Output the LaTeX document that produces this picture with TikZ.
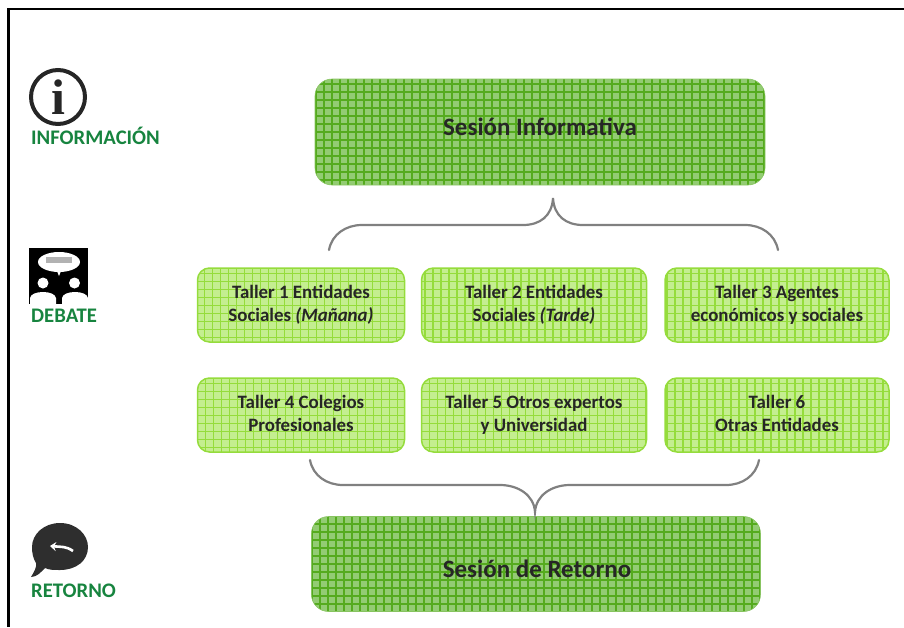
\documentclass[tikz,border=0pt]{standalone}
\usepackage{fontspec}
\setmainfont{Carlito}
\newfontfamily\iconfont{Liberation Serif}
\usepackage{xcolor}
\usepackage{tikz}
\usetikzlibrary{shapes,positioning,arrows.meta,calc}

\definecolor{bigfill}{HTML}{93CC73}
\definecolor{bigline}{HTML}{55AB1E}
\definecolor{smallfill}{HTML}{C4EE90}
\definecolor{smallline}{HTML}{95DC3C}
\definecolor{labelgreen}{HTML}{17843F}
\definecolor{bracegray}{HTML}{808080}

\newcommand{\tallerup}{\rule{0pt}{17pt}}

\tikzset{
	bigbox/.style={draw=bigline!70,line width=0.6pt,fill=bigfill,rounded corners=17pt,
		path picture={
			\draw[bigline,line width=1.8pt,step=8pt] (path picture bounding box.south west) grid (path picture bounding box.north east);
		}},
	bigtext/.style={inner sep=0pt,font=\fontsize{25}{30}\selectfont\bfseries,text=black!85},
	smallbox/.style={draw=smallline,line width=1.5pt,fill=smallfill,rounded corners=12pt,
		font=\fontsize{18.9}{23}\selectfont\bfseries,text=black!85,align=center,
		execute at end node=\strut,
		path picture={
			\draw[smallline,line width=1.5pt,step=8pt] (path picture bounding box.south west) grid (path picture bounding box.north east);
		}},
	sidelabel/.style={anchor=west,inner sep=0pt,text=labelgreen,font=\fontsize{20.7}{24}\selectfont\bfseries},
	bracket/.style={draw=bracegray,line width=2.2pt,line cap=round}
}

\begin{document}
\begin{tikzpicture}[x=1pt,y=-1pt]
	\useasboundingbox (0,0) rectangle (904,627);
	% frame, top and left only
	\draw[line width=2.5pt] (904,9) -- (8.5,9) -- (8.5,627);

	\node[bigbox,minimum width=450pt,minimum height=106pt] (info) at (540,132) {};
	\node[bigtext] (infotext) at (540,127) {Sesión Informativa};
	\node[bigbox,minimum width=449pt,minimum height=95pt] (retorno) at (536,564) {};
	\node[bigtext] (retornotext) at (537,569) {Sesión de Retorno};

	\node[smallbox,minimum width=207pt,minimum height=74pt] (t1) at (301,305) {\tallerup Taller 1 Entidades\\Sociales \textit{(Mañana)}};
	\node[smallbox,minimum width=225pt,minimum height=74pt] (t2) at (534,305) {\tallerup Taller 2 Entidades\\Sociales \textit{(Tarde)}};
	\node[smallbox,minimum width=224pt,minimum height=74pt] (t3) at (777,305) {\tallerup Taller 3 Agentes\\económicos y sociales};
	\node[smallbox,minimum width=207pt,minimum height=74pt] (t4) at (301,415) {\tallerup Taller 4 Colegios\\Profesionales};
	\node[smallbox,minimum width=225pt,minimum height=74pt] (t5) at (534,415) {\tallerup Taller 5 Otros expertos\\y Universidad};
	\node[smallbox,minimum width=224pt,minimum height=74pt] (t6) at (777,415) {\tallerup Taller 6\\Otras Entidades};

	% braces
	\coordinate (topleft) at (329,250);
	\coordinate (topright) at (778,250);
	\coordinate (toptip) at (553,198);
	\draw[bracket] (topleft) .. controls (332,234) and (346,225) .. (362,225) -- (523,225)
		.. controls (540,225) and (552,216) .. (toptip)
		.. controls (554,216) and (566,225) .. (583,225) -- (745,225)
		.. controls (761,225) and (775,234) .. (topright);
	\coordinate (botleft) at (310,460);
	\coordinate (botright) at (759,460);
	\coordinate (bottip) at (535,512);
	\draw[bracket] (botleft) .. controls (313,476) and (327,485) .. (343,485) -- (500,485)
		.. controls (518,485) and (534,495) .. (bottip)
		.. controls (536,495) and (552,485) .. (570,485) -- (726,485)
		.. controls (742,485) and (756,476) .. (botright);

	% left side icons
	\node[circle,draw=black!85,line width=4pt,minimum size=54pt,inner sep=0pt,font=\fontsize{50}{50}\selectfont\iconfont\bfseries,text=black!85] (iconinfo) at (58,97) {i};
	\node[sidelabel] (labelinfo) at (31,136) {INFORMACIÓN};

	\node[fill=black,minimum width=59pt,minimum height=56pt,inner sep=0pt] (icondebate) at (58.5,276) {};
	\node[ellipse,fill=white,minimum width=42pt,minimum height=20pt,inner sep=0pt] (bubble) at (59,262) {};
	\node[fill=black!30,minimum width=26pt,minimum height=6pt,inner sep=0pt] (bubbletext) at (59,260) {};
	\fill[white] (57,271) -- (61,271) -- (59,276) -- cycle;
	\node[circle,fill=white,minimum size=11pt,inner sep=0pt] (headleft) at (43,283) {};
	\node[circle,fill=white,minimum size=11pt,inner sep=0pt] (headright) at (74.5,283) {};
	\fill[white] (30,304) -- (30,298) .. controls (31,290) and (55,290) .. (56,298) -- (56,304) -- cycle;
	\fill[white] (62,304) -- (62,298) .. controls (63,290) and (87,290) .. (88,298) -- (88,304) -- cycle;
	\node[sidelabel] (labeldebate) at (31,316) {DEBATE};

	\fill[black!82] (60,523) .. controls (77,523) and (88,535) .. (88,547)
		.. controls (88,561) and (76,570) .. (60,570)
		.. controls (54,570) and (49,570) .. (45,568) .. controls (41,572) and (37,577) .. (31,577)
		.. controls (34,572) and (37,567) .. (36,563)
		.. controls (33,558) and (32,553) .. (32,547) .. controls (32,534) and (44,523) .. (60,523) -- cycle;
	\draw[white,line width=2.6pt,-{Stealth[length=6pt,width=9pt]}] (73,551) .. controls (66,546) and (61,547) .. (50,546);
	\node[sidelabel] (labelretorno) at (31,591) {RETORNO};
\end{tikzpicture}
\end{document}
